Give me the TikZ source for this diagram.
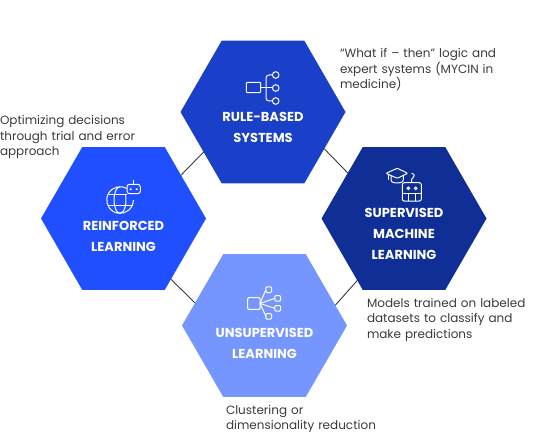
\documentclass[tikz,border=0pt]{standalone}
\usepackage{fontspec}
\setmainfont{Poppins}
\usetikzlibrary{shapes.geometric,positioning}
\definecolor{topblue}{HTML}{1A3FC8}
\definecolor{leftblue}{HTML}{1F4FFF}
\definecolor{rightblue}{HTML}{0F2E96}
\definecolor{lowblue}{HTML}{7595FF}
\definecolor{notegray}{HTML}{3A3A3A}
\tikzset{
  hexa/.style={regular polygon,regular polygon sides=6,minimum size=165pt,inner sep=0pt,outer sep=0pt},
  hexlabel/.style={text=white,align=center,font=\fontsize{13}{21}\selectfont\bfseries},
  note/.style={text=notegray,align=left,text width=172pt,font=\fontsize{12}{15.5}\selectfont},
  link/.style={draw=notegray,line width=0.9pt},
  icon/.style={draw=white,line width=1pt,rounded corners=1pt}
}
\begin{document}
\begin{tikzpicture}[x=1pt,y=1pt,on grid]
\useasboundingbox (0,0) rectangle (545,-438);
\node[hexa,fill=topblue] (hextop) at (263,-112) {};
\node[hexa,fill=leftblue,below left=106.5pt and 139.5pt of hextop] (hexleft) {};
\node[hexa,fill=rightblue,below right=106.5pt and 141pt of hextop] (hexright) {};
\node[hexa,fill=lowblue,below=213.5pt of hextop,xshift=1.5pt] (hexlow) {};
\draw[link] (hextop.214) -- (hexleft.37);
\draw[link] (hextop.329) -- (hexright.141);
\draw[link] (hexleft.308) -- (hexlow.162);
\draw[link] (hexright.233.5) -- (hexlow.16);
\node[hexlabel,below=15.5pt of hextop] (labeltop) {RULE-BASED\\SYSTEMS};
\node[hexlabel,below=17.8pt of hexleft] (labelleft) {REINFORCED\\LEARNING};
\node[hexlabel,below=15.8pt of hexright] (labelright) {SUPERVISED\\MACHINE\\LEARNING};
\node[hexlabel,below=17.5pt of hexlow] (labellow) {UNSUPERVISED\\LEARNING};
\node[note,above right=42pt and 163pt of hextop] (notetop) {“What if – then” logic and\\expert systems (MYCIN in\\medicine)};
\node[note,above left=81.5pt and 37.5pt of hexleft] (noteleft) {Optimizing decisions\\through trial and error\\approach};
\node[note,below right=101pt and 49pt of hexright] (noteright) {Models trained on labeled\\datasets to classify and\\make predictions};
\node[note,below right=93.5pt and 47.5pt of hexlow] (notelow) {Clustering or\\dimensionality reduction};
% rule tree
\begin{scope}[shift={(hextop.center)}]
\draw[icon] (-16.7,19.3) rectangle (-2.3,29.7);
\draw[icon] (-2.3,24) -- (9.4,24);
\draw[icon,rounded corners=3pt] (9.4,37) -- (3,37) -- (3,11) -- (9.4,11);
\foreach \y in {37,24,11} \draw[icon] (12.7,\y) circle (3.3);
\end{scope}
% globe and robot
\begin{scope}[shift={(hexleft.center)}]
\draw[icon] (3.2,30) arc (60:360:13.3);
\draw[icon] (-3.5,31.8) arc (90:270:6 and 13.3);
\draw[icon] (-3.5,5.2) arc (-90:20:6 and 13.3);
\draw[icon] (-14.5,24) -- (3,24);
\draw[icon] (-14.5,13) -- (9.7,13);
\draw[icon,rounded corners=2.5pt] (3.5,24.8) rectangle (16.8,34.2);
\draw[icon] (10.2,34.2) -- (10.2,38.5);
\fill[white] (7.2,29.2) circle (1.1) (13.2,29.2) circle (1.1);
\end{scope}
% cap and robot
\begin{scope}[shift={(hexright.center)}]
\draw[icon] (-18,45.2) -- (-6.7,50.2) -- (3.7,45.2) -- (-6.7,40.2) -- cycle;
\draw[icon] (-13,42.5) -- (-13,37.8) .. controls (-11,35) and (-3,35) .. (-0.7,37.8) -- (-0.7,42.5);
\draw[icon] (-16,44) -- (-16,38);
\draw[icon,rounded corners=2pt] (-1.7,17.5) rectangle (17.3,35.8);
\draw[icon] (-1.7,25.2) -- (17.3,25.2);
\draw[icon] (4.3,25.2) -- (4.3,17.5) (11,25.2) -- (11,17.5);
\draw[icon] (4.3,30.2) circle (1.3) (11.7,30.2) circle (1.3);
\draw[icon] (7.7,35.8) -- (7.7,40.2) .. controls (11,41) and (11,44.5) .. (7.7,45.2);
\end{scope}
% cluster
\begin{scope}[shift={(hexlow.center)}]
\draw[icon] (-16.8,16.2) rectangle (-4.5,27.8);
\foreach \x/\y in {4.2/35.8,13.2/27.2,13.2/17.2,4.2/9.2} {
  \draw[icon] (\x-2.8,\y-2.8) rectangle (\x+2.8,\y+2.8);
  \draw[icon] (-4.5,22) -- (\x-2.8,\y);
}
\end{scope}
\end{tikzpicture}
\end{document}
